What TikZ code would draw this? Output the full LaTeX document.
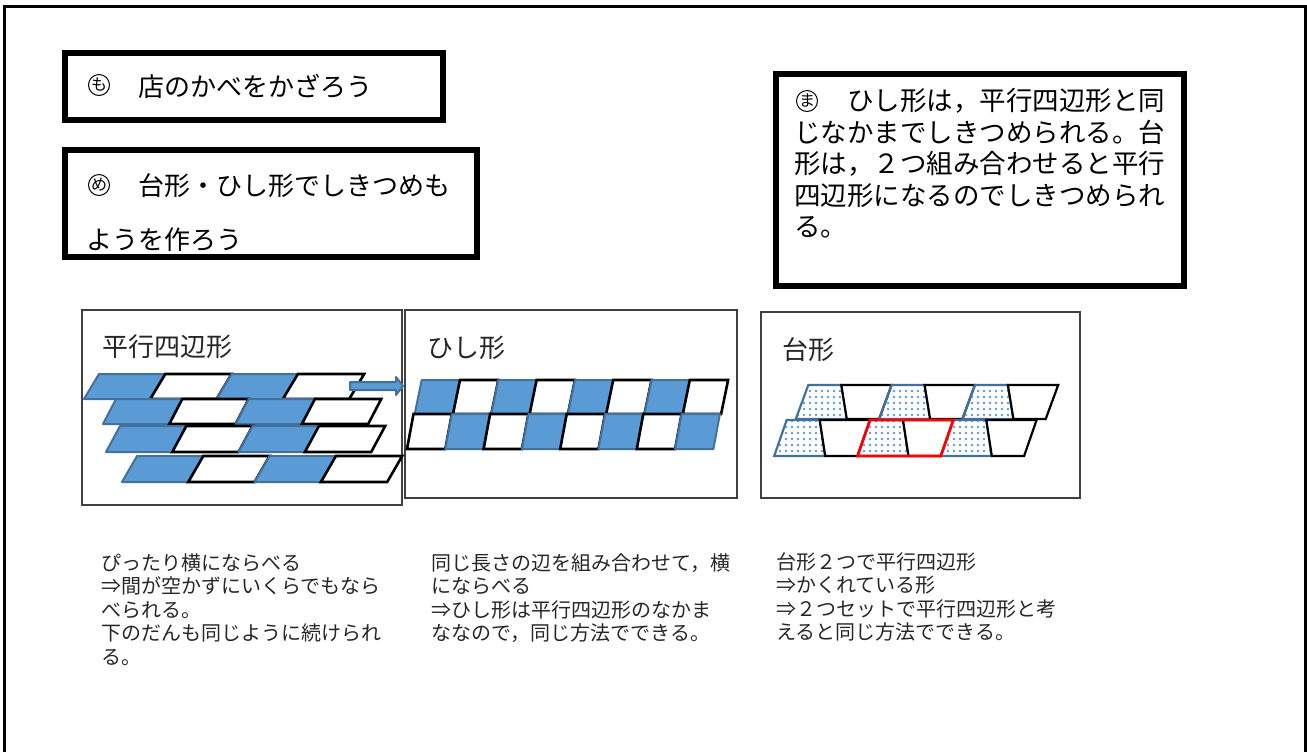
\documentclass[tikz,border=0pt]{standalone}
\usepackage{fontspec}
\setmainfont{Noto Sans CJK JP}
\usetikzlibrary{patterns.meta}
\definecolor{pblue}{HTML}{5B9BD5}
\definecolor{pedge}{HTML}{41719C}
\definecolor{frameg}{HTML}{404040}
\begin{document}
\begin{tikzpicture}[x=0.5pt,y=-0.5pt,
  bigbox/.style={draw=black,line width=2.7pt},
  panel/.style={draw=frameg,line width=0.6pt},
  bluepar/.style={fill=pblue,draw=pedge,line width=1pt,line join=round},
  whitepar/.style={fill=white,draw=black,line width=1.3pt},
  dottrap/.style={pattern={Dots[radius=0.65pt,distance=3pt]},pattern color=pblue,draw=pedge,line width=1.1pt},
  whitetrap/.style={fill=white,draw=black,line width=1.1pt},
  redpar/.style={draw=red,line width=1.3pt},
  maru/.style={circle,draw,line width=0.5pt,minimum size=10.5pt,inner sep=0pt,font=\fontsize{8}{8}\selectfont},
  headtxt/.style={inner sep=0pt,align=left,font=\fontsize{13}{15}\selectfont},
  ttl/.style={inner sep=0pt,anchor=west,font=\fontsize{13}{15}\selectfont,text=black!85},
  note/.style={inner sep=0pt,align=left,anchor=north west,font=\fontsize{10}{11.75}\selectfont,text=black!85}]
\useasboundingbox (0,0) rectangle (1307,751);
% outer frame
\draw[line width=1.3pt] (4.5,760) -- (4.5,6.5) -- (1305.7,6.5) -- (1305.7,760);
% heading boxes
\draw[bigbox] (65,53) rectangle (443,120);
\node[maru] (m1) at (99,85) {も};
\node[headtxt,anchor=west] (h1) at (138,86) {店のかべをかざろう};
\draw[bigbox] (65,150) rectangle (477,257);
\node[maru] (m2) at (99,185) {め};
\node[headtxt,anchor=north west,font=\fontsize{13}{27}\selectfont] (h2) at (86,173) {\hspace*{2em}台形・ひし形でしきつめも\\ようを作ろう};
\draw[bigbox] (776,74) rectangle (1184,286);
\node[maru] (m3) at (807,101) {ま};
\node[headtxt,anchor=north west,font=\fontsize{13.25}{15.75}\selectfont] (h3) at (794,88) {\hspace*{2em}ひし形は，平行四辺形と同\\じなかまでしきつめられる。台\\形は，２つ組み合わせると平行\\四辺形になるのでしきつめられ\\る。};
% panels
\draw[panel] (82,310) rectangle (402,505);
\draw[panel] (405,310) rectangle (737,498);
\draw[panel] (761,312) rectangle (1080,498);
\node[ttl] (tA) at (102,347) {平行四辺形};
\node[ttl] (tB) at (427,348) {ひし形};
\node[ttl] (tC) at (782,350) {台形};
% panel A: parallelograms
\foreach \xb/\yt/\yb/\s in {84/374/399/15, 103/399/424/13, 106/426/452/14, 122/456/482/15}{
  \foreach \k in {0,1,2,3}{
    \pgfmathtruncatemacro{\odd}{mod(\k,2)}
    \ifnum\odd=0 \def\sty{bluepar}\else\def\sty{whitepar}\fi
    \draw[\sty] ({\xb+\k*66.3},\yb) -- ({\xb+\k*66.3+\s},\yt) -- ({\xb+(\k+1)*66.3+\s},\yt) -- ({\xb+(\k+1)*66.3},\yb) -- cycle;
  }
}
\draw[bluepar] (350,382) -- (396,382) -- (396,377) -- (403,386) -- (396,395) -- (396,390) -- (350,390) -- cycle;
% panel B: rhombi
\foreach \xt/\yt/\yb/\s/\first in {421.7/380/414/7/0, 413.5/414/449/6.5/1}{
  \foreach \k in {0,...,7}{
    \pgfmathtruncatemacro{\odd}{mod(\k+\first,2)}
    \ifnum\odd=0 \def\sty{bluepar}\else\def\sty{whitepar}\fi
    \draw[\sty] ({\xt+\k*38.3},\yt) -- ({\xt+(\k+1)*38.3},\yt) -- ({\xt+(\k+1)*38.3-\s},\yb) -- ({\xt+\k*38.3-\s},\yb) -- cycle;
  }
}
% panel C: trapezoids
\foreach \xo/\yt/\yb in {808.3/385/419, 786.7/420/456}{
  \foreach \k in {0,1,2}{
    \pgfmathsetmacro{\x}{\xo+\k*83.3}
    \draw[dottrap] (\x,\yt) -- ({\x+33},\yt) -- ({\x+38.5},\yb) -- ({\x-12.5},\yb) -- cycle;
    \draw[whitetrap] ({\x+33},\yt) -- ({\x+83.3},\yt) -- ({\x+70.8},\yb) -- ({\x+38.5},\yb) -- cycle;
  }
}
\draw[redpar] (870,420) -- (953.3,420) -- (940.8,456) -- (857.5,456) -- cycle;
% notes
\node[note] (nA) at (101,553) {ぴったり横にならべる\\⇒間が空かずにいくらでもなら\\べられる。\\下のだんも同じように続けられ\\る。};
\node[note] (nB) at (431,553) {同じ長さの辺を組み合わせて，横\\にならべる\\⇒ひし形は平行四辺形のなかま\\ななので，同じ方法でできる。};
\node[note] (nC) at (776,552) {台形２つで平行四辺形\\⇒かくれている形\\⇒２つセットで平行四辺形と考\\えると同じ方法でできる。};
\end{tikzpicture}
\end{document}
